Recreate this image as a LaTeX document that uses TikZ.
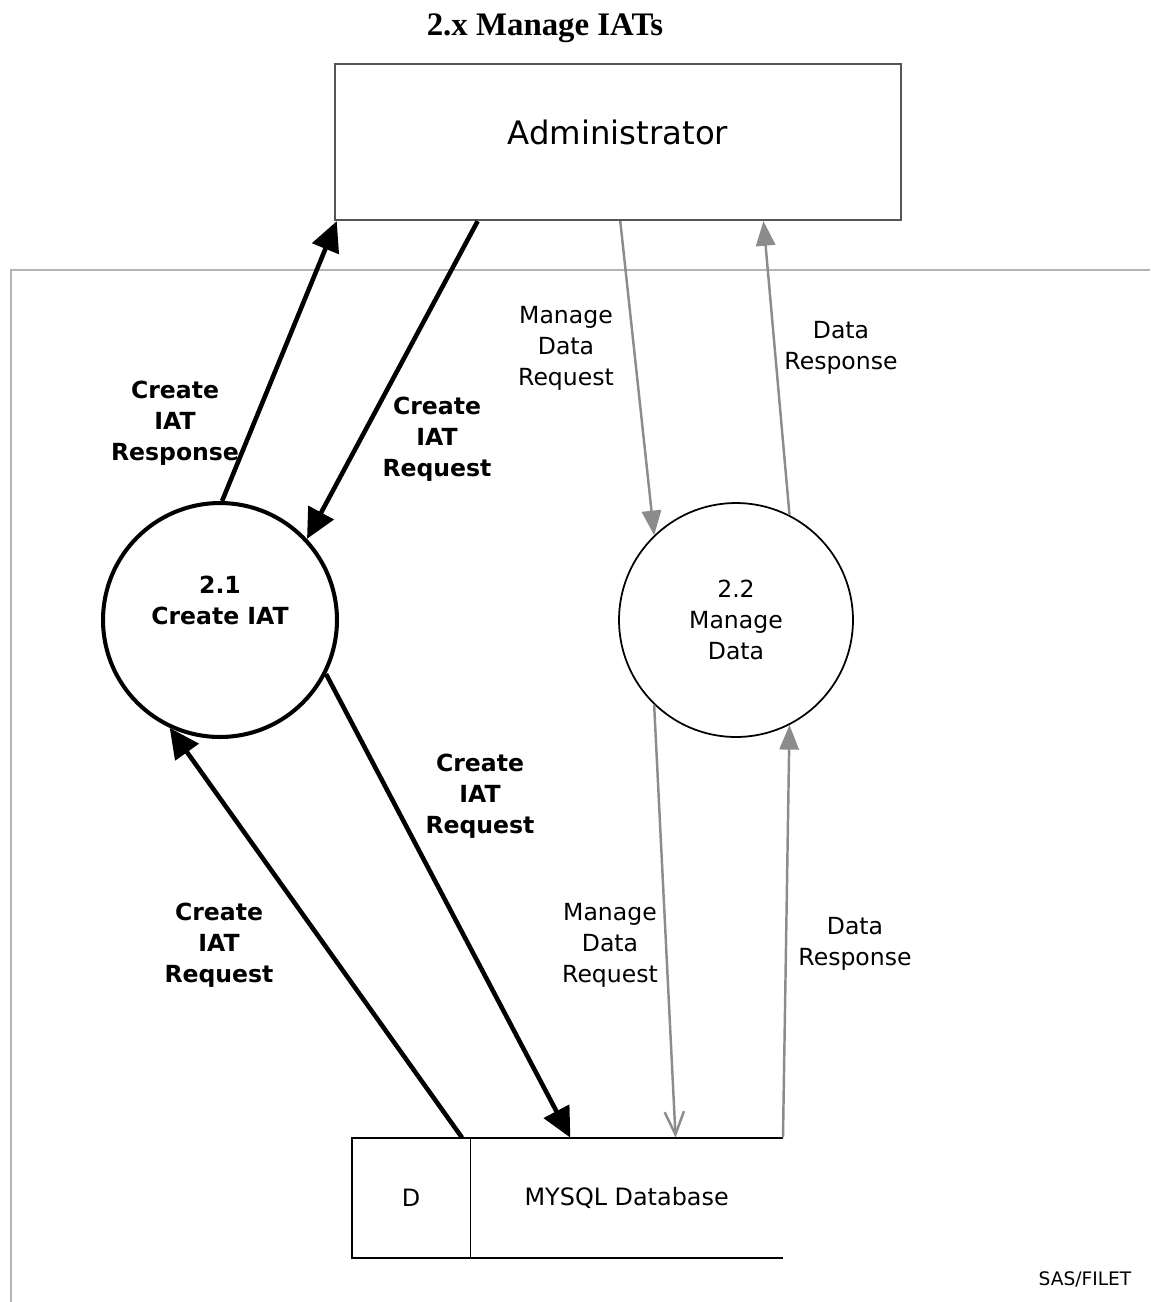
\documentclass[tikz,border=0pt]{standalone}
\usepackage{fontspec}
\setmainfont{DejaVu Sans}
\newfontfamily\titlefont{Liberation Serif}
\usetikzlibrary{arrows.meta,calc}

\definecolor{flowgray}{HTML}{8C8C8C}
\definecolor{framegray}{HTML}{B4B4B4}
\definecolor{boxgray}{HTML}{555555}

\begin{document}
\begin{tikzpicture}[x=0.02cm,y=-0.02cm,
    lbl/.style={align=center,font=\fontsize{13.4}{17.6}\selectfont},
    boldlbl/.style={align=center,font=\fontsize{13.4}{17.6}\selectfont\bfseries},
    process/.style={circle,draw,minimum size=4.68cm,inner sep=0pt,align=center},
    storebox/.style={minimum height=2.4cm,inner sep=0pt,font=\fontsize{13.6}{16}\selectfont},
    bigflow/.style={line width=2.6pt,-{Triangle[length=17pt,width=16pt]}},
    smallflow/.style={flowgray,line width=1.4pt,-{Triangle[length=14pt,width=11pt]}},
    thinflow/.style={flowgray,line width=1.4pt,-{Straight Barb[length=13pt,width=11pt]}}]
  \useasboundingbox (0,0) rectangle (1150,1302);

  % title and outer frame
  \node (title) at (545,28) {\titlefont\bfseries\fontsize{18.7}{22}\selectfont 2.x Manage IATs};
  \draw[framegray,line width=1.1pt] (11,1302) -- (11,270) -- (1150,270);

  % external entity, processes, data store
  \node (adm) at (618,142) [draw=boxgray,line width=1.3pt,minimum width=11.32cm,minimum height=3.12cm,
    text depth=0.4cm,font=\fontsize{18.4}{22}\selectfont]{Administrator};
  \node (p21) at (220,620) [process,line width=2.3pt,font=\fontsize{13.4}{17.6}\selectfont\bfseries]{2.1\\Create IAT\\\strut};
  \node (p22) at (736,620) [process,line width=1pt,font=\fontsize{13.4}{17.6}\selectfont]{2.2\\Manage\\Data};
  \node (dkey) at (411,1198) [storebox,minimum width=2.36cm]{D};
  \node (db) at (dkey.east) [storebox,minimum width=6.24cm,anchor=west]{MYSQL Database};
  \draw[line width=1.3pt] (db.north east) -- (dkey.north west) -- (dkey.south west) -- (db.south east);
  \draw[line width=0.8pt] (dkey.north east) -- (dkey.south east);

  % flows between administrator and processes
  \draw[bigflow] (p21.89) -- ($(adm.south west)!0.005!(adm.south east)$);
  \draw[bigflow] ($(adm.south west)!0.253!(adm.south east)$) -- (p21.43);
  \draw[smallflow] ($(adm.south west)!0.504!(adm.south east)$) -- (p22.134);
  \draw[smallflow] (p22.63) -- ($(adm.south west)!0.756!(adm.south east)$);

  % flows between processes and data store
  \draw[bigflow] (p21.-27) -- ($(dkey.north west)!0.507!(db.north east)$);
  \draw[bigflow] ($(dkey.north west)!0.256!(db.north east)$) -- (p21.-115);
  \draw[thinflow] (p22.-134) -- ($(dkey.north west)!0.751!(db.north east)$);
  \draw[smallflow] (db.north east) -- (p22.-63);

  % flow labels
  \node (l1) at (175,423) [boldlbl]{Create\\IAT\\Response};
  \node (l2) at (437,439) [boldlbl]{Create\\IAT\\Request};
  \node (l3) at (566,348) [lbl]{Manage\\Data\\Request};
  \node (l4) at (841,348) [lbl]{Data\\Response};
  \node (l5) at (480,796) [boldlbl]{Create\\IAT\\Request};
  \node (l6) at (219,945) [boldlbl]{Create\\IAT\\Request};
  \node (l7) at (610,945) [lbl]{Manage\\Data\\Request};
  \node (l8) at (855,944) [lbl]{Data\\Response};
  \node (tag) at (1085,1279) [font=\fontsize{10.6}{12}\selectfont]{SAS/FILET};
\end{tikzpicture}
\end{document}
